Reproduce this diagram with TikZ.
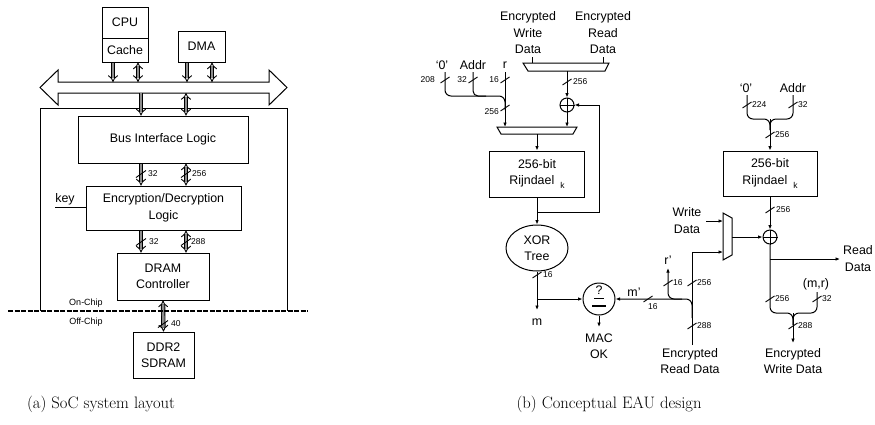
\documentclass[tikz,border=0pt]{standalone}
\usepackage{fontspec}
\newfontfamily\dfont{Liberation Sans}
\usetikzlibrary{arrows.meta,shapes.geometric,calc}
\begin{document}
\begin{tikzpicture}[x=1pt,y=-1pt,
  txt/.style={font=\dfont\fontsize{12.4}{16.5}\selectfont, inner sep=0pt, align=center},
  txb/.style={font=\dfont\fontsize{12.4}{15.5}\selectfont, inner sep=0pt, align=center},
  sml/.style={font=\dfont\fontsize{8.5}{10}\selectfont, inner sep=0pt, anchor=west},
  blk/.style={draw, line width=1pt, font=\dfont\fontsize{12.4}{16.5}\selectfont, align=center, inner sep=0pt},
  hol/.style={double=black!45, double distance=2.5pt, line width=0.9pt},
  hd/.style={hol, -Implies},
  hdd/.style={hol, Implies-Implies},
  wire/.style={line width=1pt},
  arr/.style={wire, -{Latex[length=4.5pt,width=3.6pt]}},
  xorc/.style={draw, circle, line width=1pt, minimum size=14pt, inner sep=0pt},
  captxt/.style={font=\fontsize{16.6}{19}\selectfont, inner sep=0pt},
  tks/.pic={\draw[line width=0.9pt] (-4.5,3) -- (4.5,-3);},
  tkb/.pic={\draw[line width=0.9pt] (-5,3.5) -- (5,-3.5);},
]
\useasboundingbox (0,0) rectangle (875,424);

% ================= (a) SoC system layout =================
\node[blk, minimum width=46pt, minimum height=31pt] (cpu) at (125,22.5) {CPU};
\node[blk, minimum width=46pt, minimum height=24pt] (cache) at (125,50) {Cache};
\node[blk, minimum width=47pt, minimum height=31pt] (dma) at (201.5,46.5) {DMA};

% system bus
\draw[line width=1pt] (58,82) -- (58,70) -- (40,87.5) -- (58,105) -- (58,93) -- (269,93)
  -- (269,105) -- (287,87.5) -- (269,70) -- (269,82) -- cycle;
\coordinate (bt) at (0,82);
\coordinate (bb) at (0,93);

% chip outline
\draw[line width=1pt] (40,311) -- (40,108) -- (287,108) -- (287,311);

\node[blk, minimum width=170pt, minimum height=47pt] (bil) at (163,139.5) {Bus Interface Logic};
\node[blk, minimum width=155pt, minimum height=44pt] (enc) at (163.5,208) {Encryption/Decryption\\Logic};
\node[blk, minimum width=92pt, minimum height=47pt] (dram) at (163,276.5) {DRAM\\Controller};
\node[blk, minimum width=61pt, minimum height=46pt] (ddr) at (163.5,355) {DDR2\\SDRAM};

\coordinate (c1) at (113,0);
\coordinate (c2) at (138,0);
\coordinate (d1) at (187,0);
\coordinate (d2) at (212,0);
\coordinate (xa) at (141,0);
\coordinate (xb) at (186,0);

\draw[hd]  (c1 |- cache.south) -- (c1 |- bt);
\draw[hdd] (c2 |- cache.south) -- (c2 |- bt);
\draw[hd]  (d1 |- dma.south) -- (d1 |- bt);
\draw[hdd] (d2 |- dma.south) -- (d2 |- bt);

\draw[hd]  (xa |- bb) -- (xa |- bil.north);
\draw[hdd] (xb |- bb) -- (xb |- bil.north);
\draw[hd]  (xa |- bil.south) -- (xa |- enc.north);
\draw[hdd] (xb |- bil.south) -- (xb |- enc.north);
\draw[hd]  (xa |- enc.south) -- (xa |- dram.north);
\draw[hdd] (xb |- enc.south) -- (xb |- dram.north);
\draw[hdd] (dram.south) -- (ddr.north);

\pic at (141,174) {tkb};
\pic at (186,174) {tkb};
\node[sml] (w32a) at (148,174) {32};
\node[sml] (w256a) at (192,174) {256};
\pic at (141,242) {tkb};
\pic at (186,242) {tkb};
\node[sml] (w32b) at (149,242) {32};
\node[sml] (w288a) at (191,242) {288};
\pic at (163,324) {tkb};
\node[sml] (w40) at (171,324) {40};

% key
\node[txt] (key) at (65,199) {key};
\coordinate (k0) at (55,207);
\draw[wire] (k0) -- (k0 -| enc.west);

% chip boundary
\draw[line width=1.6pt, dash pattern=on 5pt off 1.5pt] (8,311) -- (308,311);
\node[font=\dfont\fontsize{9}{10}\selectfont, inner sep=0pt] (onc) at (86,303) {On-Chip};
\node[font=\dfont\fontsize{9}{10}\selectfont, inner sep=0pt] (offc) at (86,322) {Off-Chip};

\node[captxt] (capa) at (101,404) {(a) SoC system layout};

% ================= (b) Conceptual EAU design =================
\node[txt] (ewd) at (528,33) {Encrypted\\Write\\Data};
\node[txt] (erd) at (603,33) {Encrypted\\Read\\Data};

% top mux
\draw[line width=1pt] (523,63) -- (609,63) -- (605,71) -- (528,71) -- cycle;
\coordinate (tmL) at (532,63);
\coordinate (tmR) at (603,63);
\coordinate (tmO) at (567,71);
\draw[wire] (tmL) -- ++(0,-6);
\draw[wire] (tmR) -- ++(0,-6);

\node[xorc] (x1) at (567,105) {};
\draw[wire] (x1.north) -- (x1.south) (x1.west) -- (x1.east);
\draw[arr] (tmO) -- (x1.north);
\pic at (567,82) {tks};
\node[sml] (w256b) at (573,82) {256};

% bottom mux
\draw[line width=1pt] (497,127) -- (577,127) -- (573,134) -- (501,134) -- cycle;
\coordinate (bmR) at (567,127);
\coordinate (bmL) at (505,127);
\coordinate (bmO) at (537,134);
\draw[arr] (x1.south) -- (bmR);

% left inputs
\node[txt] (z0) at (442,65) {‘0’};
\node[txt] (ad1) at (473,65) {Addr};
\node[txt] (rr) at (505,65) {r};
\draw[wire, rounded corners=6pt] (445,72) -- (445,96) -- (505,96) -- (505,110);
\draw[wire, rounded corners=5pt] (473,72) -- (473,96) -- (486,96);
\draw[arr] (505,72) -- (bmL);
\pic at (445,80) {tks};
\pic at (473,80) {tks};
\pic at (505,80) {tks};
\pic at (505,108) {tks};
\node[sml, anchor=east] (w208) at (435,80) {208};
\node[sml, anchor=east] (w32c) at (467,80) {32};
\node[sml, anchor=east] (w16a) at (499,80) {16};
\node[sml, anchor=east] (w256c) at (499,112) {256};

% left Rijndael
\node[blk, minimum width=95pt, minimum height=46pt] (rj1) at (537,174)
  {256-bit\\Rijndael\hspace{6pt}\raisebox{-4pt}{\fontsize{8.5}{10}\selectfont k}};
\draw[arr] (bmO) -- (rj1.north);

\node[txt, draw, ellipse, line width=1pt, minimum width=62pt, minimum height=46pt,
  font=\dfont\fontsize{12.4}{16}\selectfont] (xt) at (537,248) {XOR\\Tree};
\coordinate (fbj) at (537,212);
\draw[arr] (rj1.south) -- (xt.north);
\draw[arr] (fbj) -| (599,105) -- (x1.east);

% MAC check
\coordinate (mj) at (537,299);
\coordinate (mo) at (537,310);
\draw[arr] (xt.south) -- (mo);
\pic at (537,275) {tks};
\node[sml] (w16b) at (543,275) {16};
\node[txt] (m) at (537,322) {m};

\node[draw, circle, line width=1pt, minimum size=32pt, inner sep=0pt] (cmp) at (599,299) {};
\node[txt] (q) at (599,290.5) {?};
\draw[line width=0.8pt] (594,298.5) -- (604,298.5);
\draw[line width=1.4pt] (592,306) -- (606,306);
\draw[arr] (mj) -- (cmp.west);
\coordinate (macT) at (599,327);
\draw[arr] (cmp.south) -- (macT);
\node[txt] (mac) at (599,346) {MAC\\OK};

% encrypted read data input
\node[txb] (erd2) at (690,361) {Encrypted\\Read Data};
\coordinate (vb) at (692,345);
\coordinate (m2a) at (723,221);
\coordinate (m2b) at (723,252);
\coordinate (m2o) at (732,237);
\draw[arr] (vb) -- (692,252) -- (m2b);
\draw[arr, rounded corners=6pt] (692,318) -- (692,299) -- (cmp.east);
\draw[arr, rounded corners=6pt] (682,299) -- (668,299) -- (668,268);
\node[txt] (rp) at (668,260) {r’};
\node[txt] (mp) at (634,292) {m’};
\pic at (648,299) {tks};
\node[sml] (w16c) at (648,307) {16};
\pic at (668,283) {tks};
\node[sml] (w16d) at (673,283) {16};
\pic at (692,283) {tks};
\node[sml] (w256d) at (697,283) {256};
\pic at (692,326) {tks};
\node[sml] (w288b) at (697,326) {288};

% write/read mux
\draw[line width=1pt] (723,213) -- (732,218) -- (732,255) -- (723,260) -- cycle;
\node[txt] (wd) at (687,220.5) {Write\\Data};
\coordinate (wdo) at (706,221);
\draw[arr] (wdo) -- (m2a);

\node[xorc] (x2) at (770,237) {};
\draw[wire] (x2.north) -- (x2.south) (x2.west) -- (x2.east);
\draw[arr] (m2o) -- (x2.west);

% right Rijndael
\node[blk, minimum width=94pt, minimum height=45pt] (rj2) at (770,173.5)
  {256-bit\\Rijndael\hspace{6pt}\raisebox{-4pt}{\fontsize{8.5}{10}\selectfont k}};
\draw[arr] (rj2.south) -- (x2.north);
\pic at (770,210) {tks};
\node[sml] (w256e) at (776,210) {256};

% top right merge
\node[txt] (z2) at (746,88) {‘0’};
\node[txt] (ad2) at (793,88) {Addr};
\draw[wire, rounded corners=6pt] (747,95) -- (747,119) -- (770,119) -- (770,130);
\draw[wire, rounded corners=6pt] (793,95) -- (793,119) -- (770,119) -- (770,130);
\draw[arr] (770,119) -- (rj2.north);
\pic at (747,105) {tks};
\node[sml] (w224) at (752,105) {224};
\pic at (793,105) {tks};
\node[sml] (w32d) at (798,105) {32};
\pic at (770,135) {tks};
\node[sml] (w256f) at (775,135) {256};

% read data output
\coordinate (rdj) at (770,259);
\coordinate (rdo) at (840,259);
\draw[arr] (rdj) -- (rdo);
\node[txt] (rd) at (858,258.5) {Read\\Data};

% bottom right merge
\node[txt] (mr) at (816,284) {(m,r)};
\draw[wire, rounded corners=6pt] (x2.south) -- (770,313) -- (793,313) -- (793,325);
\draw[wire, rounded corners=6pt] (817,292) -- (817,313) -- (793,313) -- (793,325);
\coordinate (ewo) at (793,343);
\draw[arr] (793,313) -- (ewo);
\pic at (770,299) {tks};
\node[sml] (w256g) at (775,299) {256};
\pic at (817,299) {tks};
\node[sml] (w32e) at (822,299) {32};
\pic at (793,326) {tks};
\node[sml] (w288c) at (798,326) {288};
\node[txb] (ewd2) at (793,361) {Encrypted\\Write Data};

\node[captxt] (capb) at (609,404) {(b) Conceptual EAU design};
\end{tikzpicture}
\end{document}
